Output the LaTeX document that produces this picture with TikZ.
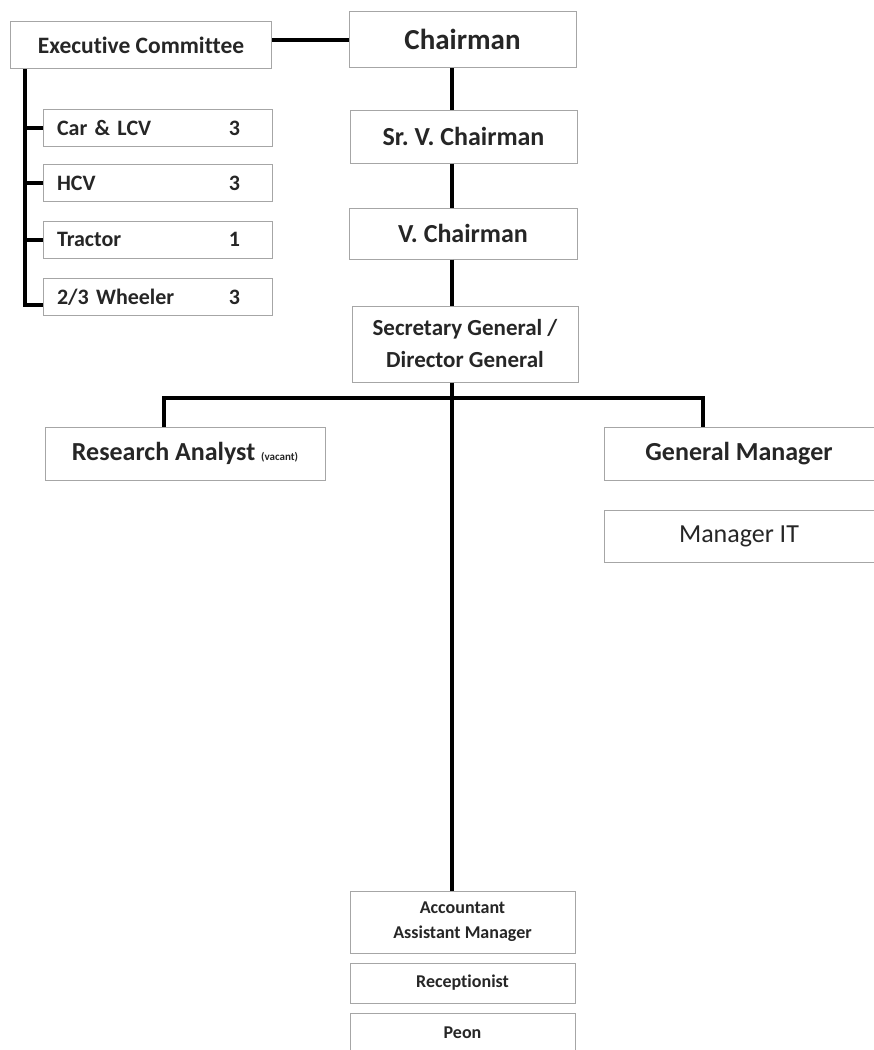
\documentclass[tikz,border=0pt]{standalone}
\usepackage{fontspec}
\setmainfont{Carlito}[Ligatures=NoCommon]
\frenchspacing
\usetikzlibrary{scopes}
\tikzset{
  box/.style={draw=gray!70, line width=1pt, fill=white, align=center, inner sep=0pt, text=black!85},
  link/.style={line width=4pt, line join=miter}
}

\begin{document}
\begin{tikzpicture}[x=1pt,y=-1pt]
    \useasboundingbox (0,0) rectangle (874,1050);
    {[every node/.style={box, font=\bfseries\fontsize{26}{31}\selectfont}]
    \node[minimum width=227, minimum height=56, font=\bfseries\fontsize{29}{34}\selectfont] (Chair) at (462.5,39.7) {Chairman};
    \node[minimum width=227, minimum height=53] (SrVC) at (463.5,136.5) {Sr. V. Chairman};
    \node[minimum width=228, minimum height=51] (VC) at (463,233.5) {V. Chairman};
    \node[minimum width=280, minimum height=53] (RA) at (185,453.5) {Research Analyst {\fontsize{11}{13}\selectfont (vacant)}};
    \node[minimum width=270, minimum height=53] (GM) at (739,453.5) {General Manager};
    \node[minimum width=270, minimum height=52, font=\fontsize{26}{31}\selectfont] (MIT) at (739,536) {Manager IT};
    }
    \node[box, font=\bfseries\fontsize{23}{32}\selectfont, minimum width=226, minimum height=76] (SG) at (465,344) {Secretary General /\\Director General};
    \node[box, font=\bfseries\fontsize{23.5}{28}\selectfont, minimum width=261, minimum height=47] (EC) at (141,45) {Executive Committee};
    {[every node/.style={box, font=\bfseries\fontsize{22}{26}\selectfont, text width=201, inner xsep=14, minimum height=37, align=left}]
    \node (Car) at (157.5,128.3) {\makebox[172pt][l]{Car \& LCV}3};
    \node (HCV) at (157.5,183) {\makebox[172pt][l]{HCV}3};
    \node (Trac) at (157.5,239.5) {\makebox[172pt][l]{Tractor}1};
    \node (W23) at (157.5,297) {\makebox[172pt][l]{2/3 Wheeler}3};
    }
    {[every node/.style={box, font=\bfseries\fontsize{18}{25}\selectfont, minimum width=225}]
    \node[minimum height=62] (Acc) at (462.5,922) {Accountant\\Assistant Manager};
    \node[minimum height=40] (Rec) at (462.5,983) {Receptionist};
    \node[minimum height=40] (Peon) at (462.5,1033) {Peon};
    }
    \coordinate (spine) at (452,0);
    \coordinate (lspine) at (25,0);
    \coordinate (lj) at (164,398);
    \coordinate (rj) at (703,398);
    {[link]
      \draw (Chair.west -| EC.east) -- (Chair.west);
      \draw (Chair.south -| spine) -- (SrVC.north -| spine);
      \draw (SrVC.south -| spine) -- (VC.north -| spine);
      \draw (VC.south -| spine) -- (SG.north -| spine);
      \draw (SG.south -| spine) -- (Acc.north -| spine);
      \draw (RA.north -| lj) -- (lj) -- (rj) -- (GM.north -| rj);
      \draw (EC.south -| lspine) |- ([yshift=-8pt]W23.west);
      \draw (lspine |- Car.west) -- (Car.west);
      \draw (lspine |- HCV.west) -- (HCV.west);
      \draw (lspine |- Trac.west) -- (Trac.west);
    }
\end{tikzpicture}
\end{document}
